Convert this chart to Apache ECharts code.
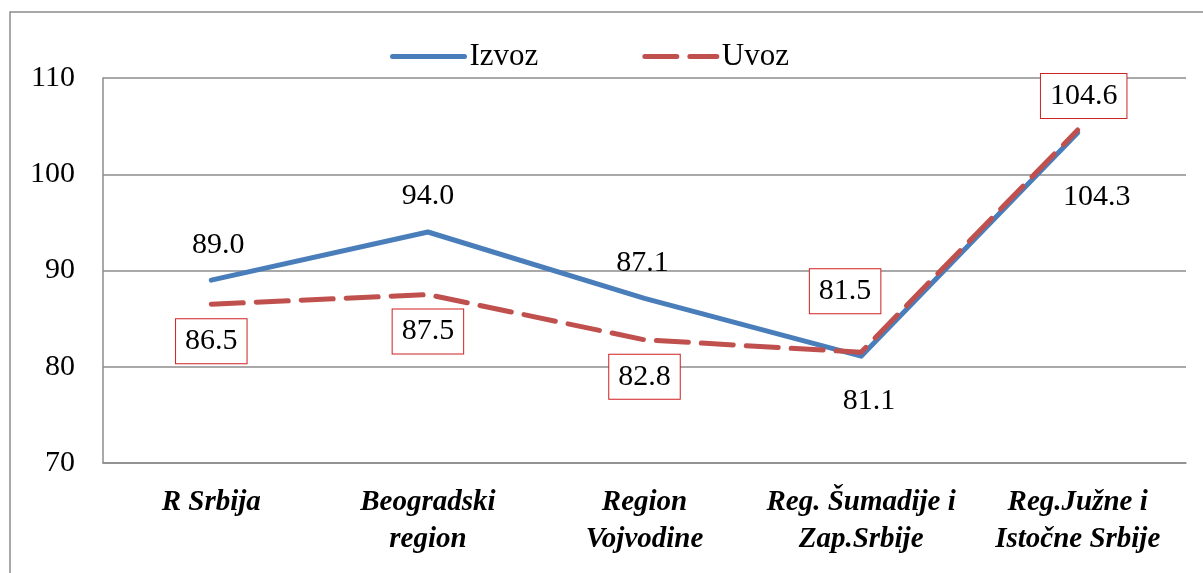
<!DOCTYPE html>
<html>
<head>
<meta charset="utf-8">
<script src="https://cdn.jsdelivr.net/npm/echarts@6/dist/echarts.min.js"></script>
<style>
html,body{margin:0;padding:0;background:#fff;}
#c{width:1203px;height:573px;}
</style>
</head>
<body>
<div id="c"></div>
<script>
const categories = ['R Srbija', 'Beogradski\nregion', 'Region\nVojvodine', 'Reg. Šumadije i\nZap.Srbije', 'Reg.Južne i\nIstočne Srbije'];
const izvoz = [89.0, 94.0, 87.1, 81.1, 104.3];
const uvoz = [86.5, 87.5, 82.8, 81.5, 104.6];
const yTicks = { min: 70, max: 110, interval: 10 };

// label placement (style only)
const izvozOffsets = [[7, -35], [0, -36], [-2, -35], [8, 45], [19, 64]];
const uvozOffsets = [[0, 37], [0, 37], [0, 37], [-16, -61], [6, -34]];

const FONT = '"Liberation Serif", "Times New Roman", serif';

const chart = echarts.init(document.getElementById('c'), null, { renderer: 'canvas' });

function mkData(vals, offs) {
  return vals.map((v, i) => ({
    value: v,
    label: { offset: offs[i] }
  }));
}

chart.setOption({
  backgroundColor: '#fff',
  animation: false,
  graphic: [{
    type: 'rect',
    shape: { x: 10, y: 12, width: 1210, height: 600 },
    style: { fill: 'none', stroke: '#8c8c8c', lineWidth: 1.5 },
    silent: true
  }],
  legend: {
    left: 385,
    top: 36,
    itemWidth: 72,
    itemHeight: 28,
    itemGap: 104,
    itemStyle: { opacity: 0 },
    lineStyle: { width: 5, cap: 'round' },
    textStyle: { fontFamily: FONT, fontSize: 31, color: '#000' },
    data: ['Izvoz', 'Uvoz']
  },
  grid: { left: 103, right: 17, top: 78, bottom: 110, containLabel: false },
  xAxis: {
    type: 'category',
    data: categories,
    boundaryGap: true,
    axisLine: { show: true, lineStyle: { color: '#8c8c8c', width: 1.5 } },
    axisTick: { show: false },
    axisLabel: {
      fontFamily: FONT,
      fontSize: 29,
      fontWeight: 'bold',
      fontStyle: 'italic',
      color: '#000',
      lineHeight: 37,
      margin: 21,
      interval: 0
    }
  },
  yAxis: {
    type: 'value',
    min: yTicks.min,
    max: yTicks.max,
    interval: yTicks.interval,
    axisLine: { show: true, lineStyle: { color: '#8c8c8c', width: 1.5 } },
    axisTick: { show: false },
    splitLine: { show: true, lineStyle: { color: '#8c8c8c', width: 1.5 } },
    axisLabel: {
      fontFamily: FONT,
      fontSize: 30,
      color: '#000',
      margin: 28
    }
  },
  series: [
    {
      name: 'Izvoz',
      type: 'line',
      data: mkData(izvoz, izvozOffsets),
      symbol: 'circle',
      symbolSize: 1,
      showSymbol: true,
      itemStyle: { color: 'rgba(0,0,0,0)' },
      lineStyle: { color: '#4a7ebb', width: 5, cap: 'round', join: 'round' },
      z: 3,
      label: {
        show: true,
        position: 'inside',
        formatter: p => p.value.toFixed(1),
        fontFamily: FONT,
        fontSize: 30,
        color: '#000'
      }
    },
    {
      name: 'Uvoz',
      type: 'line',
      data: mkData(uvoz, uvozOffsets),
      symbol: 'circle',
      symbolSize: 1,
      showSymbol: true,
      itemStyle: { color: 'rgba(0,0,0,0)' },
      lineStyle: { color: '#c0504d', width: 5, type: [32, 13], cap: 'round', join: 'round' },
      z: 4,
      label: {
        show: true,
        position: 'inside',
        formatter: p => p.value.toFixed(1),
        fontFamily: FONT,
        fontSize: 30,
        color: '#000',
        backgroundColor: '#fff',
        borderColor: '#d02020',
        borderWidth: 1,
        padding: [8, 9, 6, 9]
      }
    }
  ]
});
</script>
</body>
</html>
